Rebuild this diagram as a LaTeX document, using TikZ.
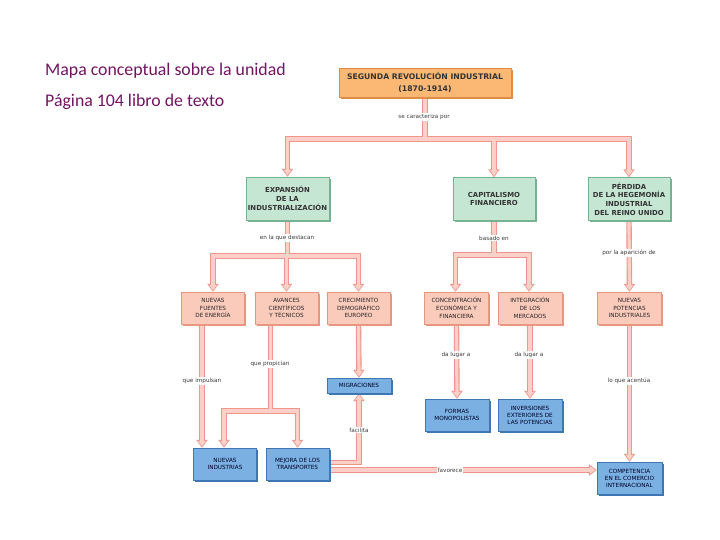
\documentclass[tikz,border=0pt]{standalone}
\usepackage{fontspec}
\setsansfont{DejaVu Sans}
\newfontfamily\calibrifont{Carlito}
\usetikzlibrary{positioning,arrows.meta,shadows}
\definecolor{titlePurple}{RGB}{116,20,98}
\definecolor{topOrange}{RGB}{250,184,116}
\definecolor{topOrangeDk}{RGB}{222,140,70}
\definecolor{expGreen}{RGB}{198,230,212}
\definecolor{expGreenDk}{RGB}{118,178,146}
\definecolor{ideaSalmon}{RGB}{250,202,186}
\definecolor{ideaSalmonDk}{RGB}{232,150,128}
\definecolor{resBlue}{RGB}{122,176,226}
\definecolor{resBlueDk}{RGB}{62,118,178}
\definecolor{connEdge}{RGB}{238,150,138}
\definecolor{connFill}{RGB}{252,208,200}
\definecolor{linkGray}{RGB}{60,60,60}

\pgfdeclarelayer{background}
\pgfdeclarelayer{connback}
\pgfdeclarelayer{connfront}
\pgfsetlayers{background,connback,connfront,main}

% connector: pink outline first, light filling on top
\newcommand{\conn}[2][]{%
  \begin{pgfonlayer}{connback}\draw[connedge,#1] #2;\end{pgfonlayer}
  \begin{pgfonlayer}{connfront}\draw[connfill,#1] #2;\end{pgfonlayer}}

\begin{document}
\begin{tikzpicture}[x=1pt, y=-1pt,
  topbox/.style={draw=topOrangeDk, fill=topOrange, minimum width=172pt, minimum height=29pt, inner sep=1pt,
    align=center, font=\sffamily\bfseries\fontsize{7.7}{11.5}\selectfont, text=black!80,
    drop shadow={shadow xshift=2pt, shadow yshift=-2pt, fill=topOrangeDk, opacity=1}},
  groupbox/.style={draw=expGreenDk, fill=expGreen, minimum width=83pt, minimum height=43pt, inner sep=1pt,
    align=center, font=\sffamily\bfseries\fontsize{6.9}{8.7}\selectfont, text=black!80,
    drop shadow={shadow xshift=2pt, shadow yshift=-2pt, fill=expGreenDk, opacity=1}},
  ideabox/.style={draw=ideaSalmonDk, fill=ideaSalmon, minimum width=63pt, minimum height=32pt, inner sep=1pt,
    align=center, font=\sffamily\fontsize{5.7}{7.9}\selectfont, text=black!85,
    drop shadow={shadow xshift=1.8pt, shadow yshift=-1.8pt, fill=ideaSalmonDk, opacity=1}},
  resultbox/.style={draw=resBlueDk, fill=resBlue, minimum width=63pt, minimum height=32pt, inner sep=1pt,
    align=center, font=\sffamily\fontsize{5.7}{7}\selectfont, text=blue!15!black,
    drop shadow={shadow xshift=1.8pt, shadow yshift=-1.8pt, fill=resBlueDk, opacity=1}},
  linklabel/.style={fill=white, inner sep=1pt, font=\sffamily\fontsize{5.7}{6.5}\selectfont, text=linkGray},
  titletext/.style={font=\calibrifont\fontsize{17.8}{20}\selectfont, text=titlePurple, inner sep=0pt},
  connedge/.style={draw=connEdge, line width=5.4pt, -{Triangle[width=11pt, length=8pt]}},
  connfill/.style={draw=connFill, line width=3.2pt, shorten >=1.4pt, -{Triangle[width=7.6pt, length=5.6pt]}},
]

\begin{pgfonlayer}{background}
  \fill[white] (0,0) rectangle (720,540);
\end{pgfonlayer}
\useasboundingbox (0,0) rectangle (720,540);

% ===================================================================
% Heading texts
% ===================================================================
\node[titletext, anchor=base west] (tTitle) at (45,76) {Mapa conceptual sobre la unidad};
\node[titletext, anchor=base west] (tPage) at (45,107) {Página 104 libro de texto};

% ===================================================================
% Concept boxes
% ===================================================================
\node[topbox] (seg) at (425,82.5) {SEGUNDA REVOLUCIÓN INDUSTRIAL\\(1870-1914)};

\node[groupbox] (exp) at (287.5,198.5) {EXPANSIÓN\\DE LA\\INDUSTRIALIZACIÓN};
\node[groupbox, minimum width=82pt] (cap) at (494,199) {CAPITALISMO\\FINANCIERO};
\node[groupbox, minimum width=82pt] (perd) at (629,199) {PÉRDIDA\\DE LA HEGEMONÍA\\INDUSTRIAL\\DEL REINO UNIDO};

\node[ideabox] (nf) at (213,308) {NUEVAS\\FUENTES\\DE ENERGÍA};
\node[ideabox] (av) at (286.5,308) {AVANCES\\CIENTÍFICOS\\Y TÉCNICOS};
\node[ideabox] (cr) at (358.5,308) {CRECIMIENTO\\DEMOGRÁFICO\\EUROPEO};
\node[ideabox, minimum width=64pt] (co) at (456.5,308) {CONCENTRACIÓN\\ECONÓMICA Y\\FINANCIERA};
\node[ideabox, minimum width=64pt] (intg) at (530,308) {INTEGRACIÓN\\DE LOS\\MERCADOS};
\node[ideabox, minimum width=64pt] (np) at (629.5,308) {NUEVAS\\POTENCIAS\\INDUSTRIALES};

\node[resultbox, minimum height=15pt, minimum width=64pt] (mig) at (359,385.5) {MIGRACIONES};
\node[resultbox, minimum width=64pt] (form) at (457,415) {FORMAS\\MONOPOLISTAS};
\node[resultbox, minimum width=64pt] (inv) at (530,415) {INVERSIONES\\EXTERIORES DE\\LAS POTENCIAS};
\node[resultbox] (ni) at (225,464) {NUEVAS\\INDUSTRIAS};
\node[resultbox] (mej) at (297.5,464) {MEJORA DE LOS\\TRANSPORTES};
\node[resultbox, minimum width=65pt] (comp) at (629.5,478) {COMPETENCIA\\EN EL COMERCIO\\INTERNACIONAL};

% ===================================================================
% Connectors
% ===================================================================
\coordinate (jTop) at (seg.south |- 0,139);
\conn[-]{(seg.south) -- (jTop)}
\conn{(jTop) -| (exp.north)}
\conn{(jTop) -| (cap.north)}
\conn{(jTop) -| (perd.north)}

\coordinate (jExp) at (exp.south |- 0,256);
\conn[-]{(exp.south) -- (jExp)}
\conn{(jExp) -| (nf.north)}
\conn{(jExp) -| (av.north)}
\conn{(jExp) -| (cr.north)}

\coordinate (jCap) at (cap.south |- 0,255);
\conn[-]{(cap.south) -- (jCap)}
\conn{(jCap) -| ([xshift=-1pt]co.north)}
\conn{(jCap) -| ([xshift=-1pt]intg.north)}

\conn{(perd.south) -- (np.north)}

\conn{([xshift=-11pt]nf.south) -- ([xshift=-11pt]nf.south |- ni.north)}

\coordinate (jAv) at ([xshift=-16pt]av.south |- 0,411);
\conn[-]{([xshift=-16pt]av.south) -- (jAv)}
\conn{(jAv) -| ([xshift=-1pt]ni.north)}
\conn{(jAv) -| (mej.north)}

\conn{(cr.south) -- (mig.north)}
\conn{([yshift=1.5pt]mej.east) -| (mig.south)}
\conn{([yshift=-6pt]mej.east) -- ([yshift=-6pt]mej.east -| comp.west)}

\conn{(co.south) -- (form.north)}
\conn{(intg.south) -- (inv.north)}
\conn{(np.south) -- (comp.north)}

% ===================================================================
% Link words
% ===================================================================
\node[linklabel] (lCar) at (424,117) {se caracteriza por};
\node[linklabel] (lDest) at (287,238) {en la que destacan};
\node[linklabel] (lBas) at (494,238) {basado en};
\node[linklabel] (lApar) at (629,253) {por la aparición de};
\node[linklabel] (lImp) at (202,381) {que impulsan};
\node[linklabel] (lProp) at (270,364) {que propician};
\node[linklabel] (lFac) at (359,430) {facilita};
\node[linklabel] (lFav) at (450,470) {favorece};
\node[linklabel] (lLug1) at (456,355) {da lugar a};
\node[linklabel] (lLug2) at (529,355) {da lugar a};
\node[linklabel] (lAcen) at (629,381) {lo que acentúa};

\end{tikzpicture}
\end{document}
